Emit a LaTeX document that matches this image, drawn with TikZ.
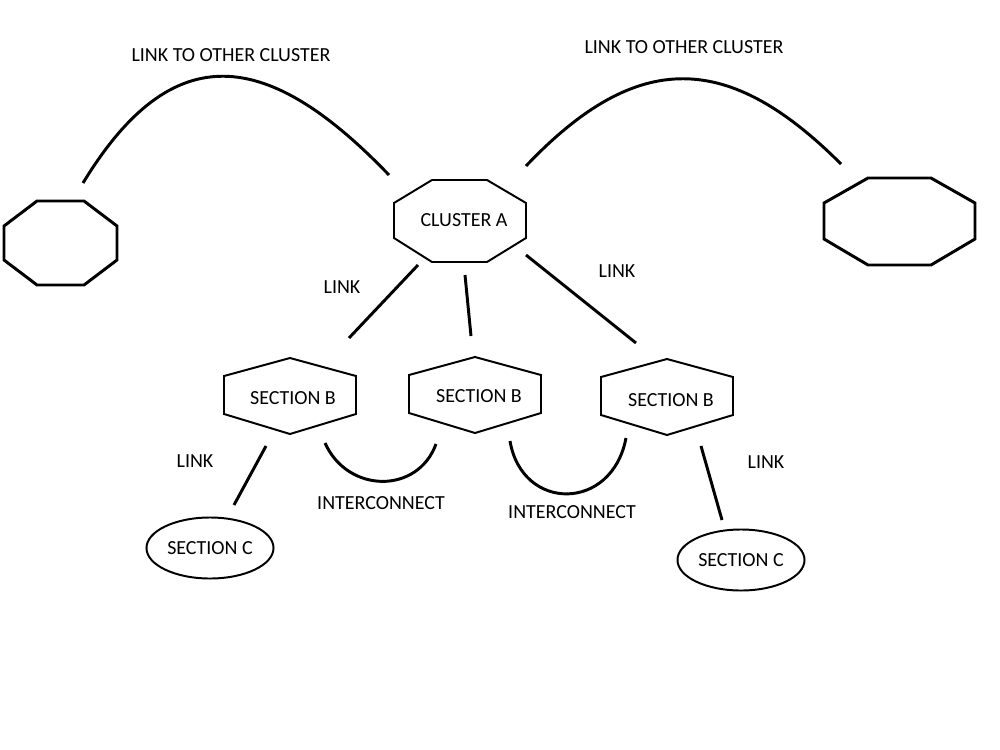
\documentclass[tikz,border=0pt]{standalone}
\usepackage{fontspec}
\setmainfont{Carlito}
\usepackage{tikz}
\usetikzlibrary{
    shapes,
    calc
}
\tikzset{lbl/.style={inner sep=0pt, font=\fontsize{14.2}{16}\selectfont}}
\tikzset{secc/.style={ellipse, draw=black, line width=1.4pt, minimum width=3.175cm, minimum height=1.525cm, inner sep=0pt, font=\fontsize{14.2}{16}\selectfont}}
\tikzset{thinline/.style={line width=1.4pt}}
\tikzset{thickline/.style={line width=2.1pt}}

\begin{document}
\begin{tikzpicture}[x=0.025cm, y=-0.025cm]
    \useasboundingbox (0, 0) rectangle (1000, 750);

    \draw[thickline] (37, 201) -- (84, 201) -- (117, 226) -- (117, 260) -- (84, 285) -- (37, 285) -- (4, 260) -- (4, 226) -- cycle;
    \draw[thickline] (868, 178) -- (931, 178) -- (975, 203) -- (975, 239) -- (931, 265) -- (868, 265) -- (824, 239) -- (824, 203) -- cycle;
    \draw[thinline] (432, 180) -- (487, 180) -- (526, 203) -- (526, 238) -- (487, 262) -- (432, 262) -- (394, 238) -- (394, 203) -- cycle;

    \foreach \hx/\hy in {290/358, 475/357, 667/359}
        \draw[thinline, shift={(\hx, \hy)}] (0, 0) -- (66, 18) -- (66, 56) -- (0, 76) -- (-66, 56) -- (-66, 18) -- cycle;

    \node[lbl] (otherL) at (231, 55) {LINK TO OTHER CLUSTER};
    \node[lbl] (otherR) at (684, 47) {LINK TO OTHER CLUSTER};
    \node[lbl] (clA) at (464, 220) {CLUSTER A};
    \node[lbl] (linkAL) at (342, 287) {LINK};
    \node[lbl] (linkAR) at (617, 271) {LINK};
    \node[lbl] (secB1) at (293, 398) {SECTION B};
    \node[lbl] (secB2) at (479, 396) {SECTION B};
    \node[lbl] (secB3) at (671, 400) {SECTION B};
    \node[lbl] (linkBL) at (195, 461) {LINK};
    \node[lbl] (linkBR) at (766, 462) {LINK};
    \node[lbl] (inter1) at (381, 503) {INTERCONNECT};
    \node[lbl] (inter2) at (572, 512) {INTERCONNECT};
    \node[secc] (secC1) at (210, 548) {SECTION C};
    \node[secc] (secC2) at (741, 560) {SECTION C};

    \coordinate (arcL1) at (83, 183);
    \coordinate (arcL2) at (389, 175);
    \coordinate (arcR1) at (526, 166);
    \coordinate (arcR2) at (841, 164);
    \coordinate (a1s) at (418, 265);
    \coordinate (a1e) at (349, 338);
    \coordinate (a2s) at (465, 275);
    \coordinate (a2e) at (471, 336);
    \coordinate (a3s) at (526, 255);
    \coordinate (a3e) at (636, 343);
    \coordinate (b1s) at (266, 446);
    \coordinate (b1e) at (234, 505);
    \coordinate (b3s) at (701, 446);
    \coordinate (b3e) at (722, 520);
    \coordinate (i1s) at (325, 443);
    \coordinate (i1e) at (436, 444);
    \coordinate (i2s) at (510, 441);
    \coordinate (i2e) at (626, 438);

    \draw[thickline] (arcL1) .. controls (173, 35) and (268, 49) .. (arcL2);
    \draw[thickline] (arcR1) .. controls (638, 48) and (729, 52) .. (arcR2);
    \draw[thickline]
    (a1s) edge (a1e)
    (a2s) edge (a2e)
    (a3s) edge (a3e)
    (b1s) edge (b1e)
    (b3s) edge (b3e);
    \draw[thickline] (i1s) .. controls (348, 494) and (418, 494) .. (i1e);
    \draw[thickline] (i2s) .. controls (522, 512) and (612, 512) .. (i2e);
\end{tikzpicture}
\end{document}
